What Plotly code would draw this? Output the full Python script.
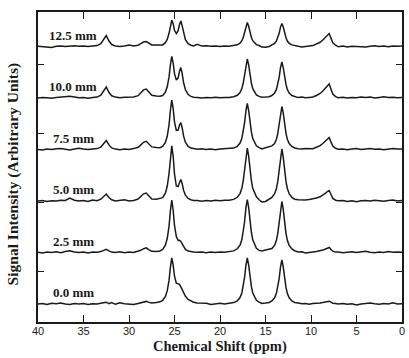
import plotly.graph_objects as go

# Chemical shift grid (ppm), shared by all spectra
ppm = [40, 39.5, 39, 38.5, 38, 37.5, 37, 36.5, 36, 35.5, 35, 34.5, 34, 33.5,
       33.1, 32.8, 32.5, 32.2, 31.9,
       31.5, 31, 30.5, 30, 29.5, 29,
       28.7, 28.4, 28.1, 27.8, 27.5,
       27.0, 26.6, 26.3,
       26.0, 25.8, 25.6, 25.45, 25.3, 25.15, 25.0, 24.8, 24.6, 24.45, 24.3, 24.15, 24.0, 23.8, 23.5, 23.2, 22.9,
       22.5, 22, 21.5, 21, 20.5, 20, 19.5, 19, 18.5, 18.1,
       17.8, 17.6, 17.45, 17.3, 17.15, 17.0, 16.85, 16.7, 16.55, 16.4, 16.2, 16.0, 15.7,
       15.4, 15.0, 14.6, 14.3,
       14.0, 13.8, 13.65, 13.5, 13.35, 13.2, 13.05, 12.9, 12.75, 12.6, 12.4, 12.1, 11.8,
       11.4, 11.0, 10.6, 10.2, 9.8, 9.4,
       9.0, 8.7, 8.4, 8.2, 8.0, 7.8, 7.6, 7.3,
       7.0, 6.5, 6.0, 5.5, 5.0, 4.5, 4.0, 3.5, 3.0, 2.5, 2.0, 1.5, 1.0, 0.5, 0.0]

spec_00 = [0.0, 0.5, -0.5, 0.8, 0.2, 1.0, 0.0, -0.6, 0.4, 0.0, 0.6, -0.4, 0.3, 0.0,
           0.8, 1.2, 1.8, 0.4, 1.5,
           -0.3, 1.2, 0.2, 0.0, -0.4, 0.5,
           1.2, 2.4, 2.6, 1.6, 1.0,
           1.5, 2.2, 3.7,
           7.5, 13.1, 23.6, 36.8, 46.1, 38.9, 27.9, 20.9, 19.7, 19.6, 17.1, 14.4, 11.1, 7.7, 4.5, 2.8, 1.8,
           0.9, 0.5, 0.8, -0.4, 0.3, 0.8, 0.0, 0.9, 1.4, 3.2,
           6.4, 11.0, 17.3, 26.5, 38.9, 46, 38.9, 26.5, 17.3, 11.0, 6.4, 3.7, 1.8,
           0.6, 1.0, 1.5, 3.1,
           6.2, 10.6, 16.6, 25.3, 37.2, 44, 37.2, 25.3, 16.6, 10.6, 6.2, 3.1, 1.5,
           1.0, 0.2, 0.6, -0.3, 0.5, 0.4,
           0.9, 1.4, 2.0, 2.6, 2.8, 1.8, 0.8, 0.4,
           0.0, 0.5, -0.3, 0.2, -1.0, 0.0, 0.6, 1.0, 0.2, -0.2, 0.4, 0.0, 1.2, 0.1, 0.3]

spec_25 = [0.3, -0.5, 0.6, 0.0, 0.8, -0.2, 0.9, 1.8, 0.5, 0.0, 0.4, -0.6, 0.5, 0.2,
           0.9, 2.0, 3.2, 1.6, 0.4,
           0.0, 0.8, -0.3, 0.5, 0.0, 0.9,
           2.2, 3.8, 4.6, 2.6, 1.2,
           1.1, 1.5, 3.1,
           7.4, 14.0, 26.2, 42.0, 52.5, 42.5, 27.2, 15.9, 12.1, 12.2, 11.1, 8.7, 5.6, 3.1, 1.4, 0.7, 0.6,
           0.2, 0.6, -0.3, 0.4, 0.0, 0.6, 0.2, 0.7, 1.6, 3.7,
           7.4, 12.7, 20.0, 30.5, 44.8, 53, 44.8, 30.5, 20.0, 12.7, 7.4, 4.2, 2.1,
           1.6, 2.4, 3.0, 3.9,
           7.1, 12.2, 19.2, 29.4, 43.1, 51, 43.1, 29.4, 19.2, 12.2, 7.1, 3.6, 1.8,
           0.6, 0.7, -0.4, 0.3, 0.5, 0.9,
           1.5, 2.4, 3.5, 4.6, 5.0, 3.0, 1.3, 0.4,
           0.5, -0.3, 0.4, 0.8, 0.0, 0.5, 1.2, 0.3, -0.2, 0.6, 0.0, 0.9, 0.2, 0.5, 0.3]

spec_50 = [0.0, 0.5, -0.4, 0.3, 0.0, 0.8, 0.6, 3.0, 0.8, 0.0, 0.5, -0.5, 0.9, 0.3,
           1.8, 4.2, 7.0, 3.5, 1.2,
           0.0, 0.6, 1.2, 0.0, 0.6, 2.0,
           4.4, 7.2, 8.0, 4.8, 2.0,
           1.8, 2.3, 3.3,
           7.8, 14.7, 27.5, 44.0, 55.1, 45.2, 27.0, 15.0, 14.5, 18.5, 21.5, 17.0, 10.6, 5.9, 2.5, 1.2, 0.5,
           0.5, -0.2, 0.4, 0.0, 0.7, 0.3, 0.8, 0.7, 1.6, 3.7,
           7.4, 12.7, 20.0, 30.5, 44.8, 53, 44.8, 30.5, 20.0, 12.7, 7.4, 4.2, 1.2,
           -1.0, -0.5, 1.8, 3.6,
           7.3, 12.5, 19.6, 30.0, 43.9, 52, 43.9, 30.0, 19.6, 12.5, 7.3, 3.6, 1.8,
           1.2, 0.8, 1.0, 1.6, 2.2, 3.0,
           4.2, 5.8, 7.8, 9.5, 10.5, 6.5, 2.6, 0.8,
           0.2, 0.5, -0.5, 0.3, -0.8, 0.2, 0.5, 0.0, 0.8, 0.2, -0.3, 0.6, 0.9, 0.0, 0.4]

spec_75 = [0.0, -0.5, 0.4, 0.0, 0.8, 1.0, 0.3, -0.4, 0.6, 1.2, 0.4, 0.0, 0.6, 0.9,
           2.4, 5.6, 9.0, 4.6, 1.6,
           0.4, -0.3, 0.5, 0.0, 0.9, 2.2,
           4.6, 7.2, 8.2, 5.0, 2.6,
           2.0, 1.8, 3.0,
           7.0, 13.2, 24.7, 39.5, 49.4, 41.1, 27.7, 19.1, 19.4, 24.5, 26.9, 21.4, 13.4, 7.4, 3.1, 1.4, 0.6,
           0.3, 0.8, 0.0, 0.5, -0.3, 0.4, 0.8, 0.6, 1.4, 3.2,
           6.4, 11.0, 17.3, 26.5, 38.9, 46, 38.9, 26.5, 17.3, 11.0, 6.4, 3.7, 1.8,
           0.6, 1.8, 3.2, 3.6,
           6.0, 10.3, 16.2, 24.8, 36.3, 43, 36.3, 24.8, 16.2, 10.3, 6.0, 3.0, 1.5,
           0.8, 0.4, 0.9, 0.5, 0.8, 2.2,
           3.8, 6.0, 8.6, 10.8, 12.0, 7.4, 3.4, 1.2,
           0.2, 0.6, -0.2, 0.4, 0.9, 0.0, 0.5, 1.0, 0.2, 0.6, -0.3, 0.5, 1.1, 0.4, 0.6]

spec_100 = [0.0, 0.6, 0.2, -0.3, 0.5, 0.8, 1.2, 1.8, 1.0, 0.2, 0.6, -0.2, 0.5, 0.9,
            2.8, 6.6, 11.0, 5.5, 2.2,
            0.9, 0.3, 0.8, 1.2, 1.1, 2.3,
            5.0, 8.1, 9.0, 5.4, 2.7,
            2.0, 1.7, 2.5,
            5.9, 11.2, 20.8, 33.3, 41.7, 35.1, 24.3, 18.0, 20.2, 26.8, 30.4, 24.2, 15.2, 8.2, 3.5, 1.6, 0.7,
            0.5, 0.0, 0.6, 0.2, 0.8, 0.3, 0.6, 0.4, 1.2, 2.7,
            5.5, 9.4, 14.7, 22.5, 33.0, 39, 33.0, 22.5, 14.7, 9.4, 5.5, 3.1, 1.6,
            0.8, 0.9, 1.3, 2.5,
            5.0, 8.6, 13.6, 20.7, 30.4, 36, 30.4, 20.7, 13.6, 8.6, 5.0, 2.5, 1.3,
            0.4, 0.9, 0.2, 0.6, 1.0, 2.5,
            4.5, 7.0, 10.1, 12.6, 14.0, 8.7, 3.9, 1.4,
            0.2, 0.8, 0.0, 0.6, 0.3, 1.0, 0.4, 0.9, 0.0, 0.6, 1.2, 0.4, 0.8, 0.2, 0.5]

spec_125 = [0.3, 0.0, -0.6, -1.0, 0.2, 0.6, 0.0, 0.4, 0.8, 0.2, 0.5, 0.0, 0.6, 0.9,
            2.8, 6.6, 11.0, 5.5, 2.0,
            0.6, 0.0, 0.4, 1.5, 0.6, 1.3,
            2.8, 4.5, 5.0, 3.0, 1.5,
            1.4, 1.1, 1.6,
            3.8, 7.1, 13.2, 21.1, 26.4, 22.7, 16.2, 13.0, 15.9, 22.0, 25.5, 20.3, 12.8, 6.9, 2.9, 1.3, 0.6,
            2.2, 0.4, 0.8, 0.2, 0.5, 0.0, 0.6, 0.3, 0.7, 1.7,
            3.4, 5.8, 9.0, 13.8, 20.3, 24, 20.3, 13.8, 9.0, 5.8, 3.4, 1.9, 1.0,
            -0.6, -0.8, 0.0, 1.6,
            3.2, 5.5, 8.7, 13.2, 19.4, 23, 19.4, 13.2, 8.7, 5.5, 3.2, 1.6, 0.8,
            0.2, -0.4, 0.3, 0.5, 0.9, 2.3,
            4.2, 6.5, 9.4, 11.7, 13.0, 8.1, 3.6, 1.3,
            -0.3, 0.4, -0.6, 0.2, 0.0, 0.5, -0.4, 0.3, 0.8, 0.0, 0.5, -0.2, 0.6, 0.2, 0.4]

spectra = [spec_00, spec_25, spec_50, spec_75, spec_100, spec_125]
labels = ["0.0 mm", "2.5 mm", "5.0 mm", "7.5 mm", "10.0 mm", "12.5 mm"]
offsets = [0, 51.5, 103, 154.5, 206, 257.5]

x_ticks = [40, 35, 30, 25, 20, 15, 10, 5, 0]
y_ticks = [33, 102, 171, 240]

for s in spectra:
    if len(s) != len(ppm):
        raise ValueError("length mismatch %d vs %d" % (len(s), len(ppm)))

ink = "#1a1a1a"
fig = go.Figure()
for spec, off in zip(spectra, offsets):
    fig.add_trace(go.Scatter(x=ppm, y=[v + off for v in spec], mode="lines",
                             line=dict(color=ink, width=1.5), showlegend=False,
                             hoverinfo="skip"))

label_font = dict(family="Liberation Serif", size=13, color=ink)
for lab, off in zip(labels, offsets):
    fig.add_annotation(x=36.1, y=off + 3, text="<b>%s</b>" % lab, showarrow=False,
                       xanchor="center", yanchor="bottom", font=label_font, borderpad=0)

fig.add_annotation(xref="paper", yref="paper", x=0.5, y=-0.08, yanchor="middle",
                   text="<b>Chemical Shift (ppm)</b>", showarrow=False,
                   font=dict(family="Liberation Serif", size=14.5, color=ink))
fig.add_annotation(xref="paper", yref="paper", x=-0.068, y=0.477, xanchor="center", yanchor="middle",
                   text="<b>Signal Intensity (Arbitrary Units)</b>", textangle=-90, showarrow=False,
                   font=dict(family="Liberation Serif", size=15.5, color=ink))

fig.update_layout(
    width=409, height=358,
    margin=dict(l=38, r=4, t=12, b=36),
    paper_bgcolor="white", plot_bgcolor="white",
    xaxis=dict(range=[40, 0], tickvals=x_ticks, ticktext=[str(t) for t in x_ticks],
               ticks="inside", ticklen=7, tickwidth=1.2, tickcolor=ink,
               showline=True, linecolor=ink, linewidth=1.5, mirror="ticks",
               showgrid=False, zeroline=False, ticklabeloverflow="allow",
               ticklabelstandoff=-2,
               tickfont=dict(family="Liberation Sans", size=11, color=ink)),
    yaxis=dict(range=[-18, 292], tickvals=y_ticks, showticklabels=False,
               ticks="inside", ticklen=6, tickwidth=1.2, tickcolor=ink,
               showline=True, linecolor=ink, linewidth=1.5, mirror="ticks",
               showgrid=False, zeroline=False),
)

# remove the browser's default page margin so the figure sits at the window's corner
fig.write_html("out.html", config={"displayModeBar": False},
               post_script="document.body.style.margin='0px';")
